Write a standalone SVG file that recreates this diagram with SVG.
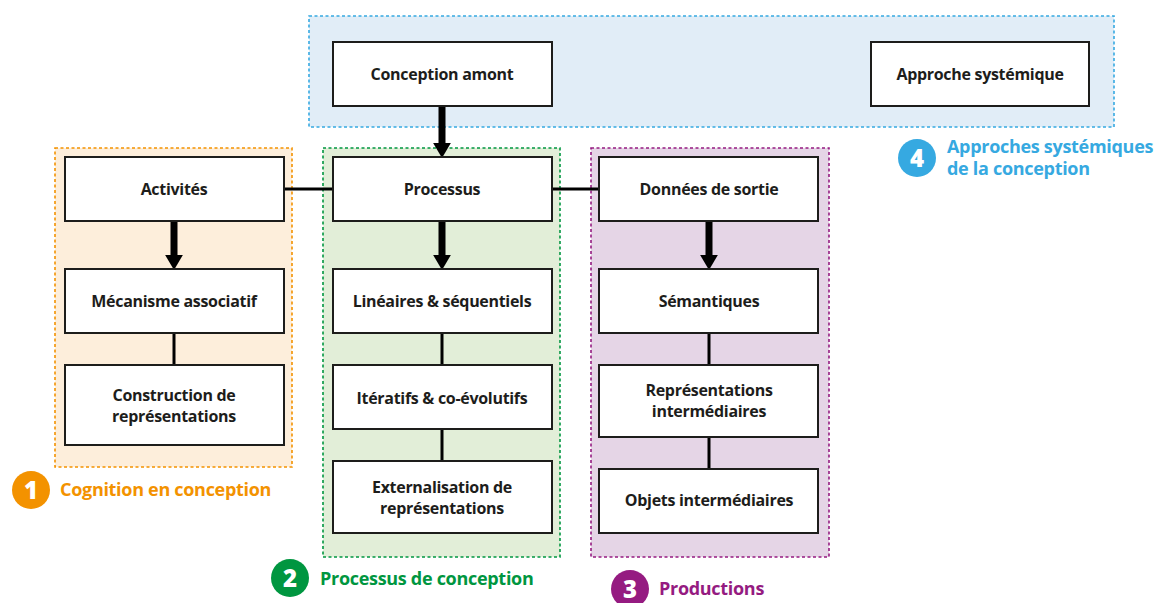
<svg xmlns="http://www.w3.org/2000/svg" width="1155" height="603" viewBox="0 0 1155 603">
<defs>
<style>
.grp{stroke-width:1.6;stroke-dasharray:3 2.5}
.box{fill:#fff;stroke:#1d1d1b;stroke-width:2}
.t{font-family:"Open Sans","Liberation Sans",sans-serif;font-weight:700;font-size:16px;fill:#1d1d1b;text-anchor:middle;letter-spacing:-0.3px}
.lbl{font-family:"Open Sans","Liberation Sans",sans-serif;font-weight:700;font-size:18px;letter-spacing:-0.3px}
.num{font-family:"Open Sans","Liberation Sans",sans-serif;font-weight:800;font-size:24px;fill:#fff;text-anchor:middle}
.ln{stroke:#000;stroke-width:3;fill:none}
.ar{stroke:#000;stroke-width:7;fill:none;marker-end:url(#ah)}
</style>
<marker id="ah" markerWidth="3.4" markerHeight="2.6" refX="0.2" refY="1.3" orient="auto" markerUnits="strokeWidth">
<path d="M0,0 L2.2,1.3 L0,2.6 Z" fill="#000"/>
</marker>
</defs>

<g id="group-systemic">
<rect class="grp" x="309" y="16" width="805" height="111" fill="#e1edf7" stroke="#36a9e1"/>
<circle cx="917" cy="158" r="19" fill="#36a9e1"/>
<text class="num" x="917" y="167">4</text>
<text class="lbl" x="947" y="153" fill="#36a9e1">Approches systémiques</text>
<text class="lbl" x="947" y="175" fill="#36a9e1">de la conception</text>
</g>
<g id="group-cognition">
<rect class="grp" x="55" y="148" width="237" height="319" fill="#fdeedb" stroke="#f39200"/>
<circle cx="31" cy="490" r="19" fill="#f39200"/>
<text class="num" x="31" y="499">1</text>
<text class="lbl" x="60" y="496" fill="#f39200">Cognition en conception</text>
</g>
<g id="group-processus">
<rect class="grp" x="323" y="148" width="237" height="409" fill="#e2eed8" stroke="#009640"/>
<circle cx="290" cy="578" r="19" fill="#009640"/>
<text class="num" x="290" y="587">2</text>
<text class="lbl" x="320" y="585" fill="#009640">Processus de conception</text>
</g>
<g id="group-productions">
<rect class="grp" x="591" y="148" width="238" height="409" fill="#e5d5e6" stroke="#951b81"/>
<circle cx="630" cy="589" r="19" fill="#951b81"/>
<text class="num" x="630" y="598">3</text>
<text class="lbl" x="659" y="595" fill="#951b81">Productions</text>
</g>

<g id="connectors">
<line class="ln" x1="284" y1="189" x2="333" y2="189"/>
<line class="ln" x1="552" y1="189" x2="599" y2="189"/>
<line class="ar" x1="442" y1="106" x2="442" y2="144"/>
<line class="ar" x1="174" y1="221" x2="174" y2="256"/>
<line class="ar" x1="442" y1="221" x2="442" y2="256"/>
<line class="ar" x1="709" y1="221" x2="709" y2="256"/>
<line class="ln" x1="174" y1="333" x2="174" y2="365"/>
<line class="ln" x1="442" y1="333" x2="442" y2="365"/>
<line class="ln" x1="442" y1="429" x2="442" y2="461"/>
<line class="ln" x1="709" y1="333" x2="709" y2="365"/>
<line class="ln" x1="709" y1="437" x2="709" y2="469"/>
</g>

<g id="n-conception-amont"><rect class="box" x="333" y="42" width="219" height="64"/><text class="t" x="442" y="80">Conception amont</text></g>
<g id="n-approche-systemique"><rect class="box" x="871" y="42" width="218" height="64"/><text class="t" x="980" y="80">Approche systémique</text></g>
<g id="n-activites"><rect class="box" x="65" y="157" width="219" height="64"/><text class="t" x="174" y="195">Activités</text></g>
<g id="n-mecanisme"><rect class="box" x="65" y="269" width="219" height="64"/><text class="t" x="174" y="307">Mécanisme associatif</text></g>
<g id="n-construction"><rect class="box" x="65" y="365" width="219" height="80"/><text class="t" x="174" y="401">Construction de</text><text class="t" x="174" y="422">représentations</text></g>
<g id="n-processus"><rect class="box" x="333" y="157" width="219" height="64"/><text class="t" x="442" y="195">Processus</text></g>
<g id="n-lineaires"><rect class="box" x="333" y="269" width="219" height="64"/><text class="t" x="442" y="307">Linéaires &amp; séquentiels</text></g>
<g id="n-iteratifs"><rect class="box" x="333" y="365" width="219" height="64"/><text class="t" x="442" y="404">Itératifs &amp; co-évolutifs</text></g>
<g id="n-externalisation"><rect class="box" x="333" y="461" width="219" height="72"/><text class="t" x="442" y="493">Externalisation de</text><text class="t" x="442" y="514">représentations</text></g>
<g id="n-donnees"><rect class="box" x="599" y="157" width="219" height="64"/><text class="t" x="709" y="195">Données de sortie</text></g>
<g id="n-semantiques"><rect class="box" x="599" y="269" width="219" height="64"/><text class="t" x="709" y="307">Sémantiques</text></g>
<g id="n-representations"><rect class="box" x="599" y="365" width="219" height="72"/><text class="t" x="709" y="396">Représentations</text><text class="t" x="709" y="417">intermédiaires</text></g>
<g id="n-objets"><rect class="box" x="599" y="469" width="219" height="64"/><text class="t" x="709" y="506">Objets intermédiaires</text></g>
</svg>
